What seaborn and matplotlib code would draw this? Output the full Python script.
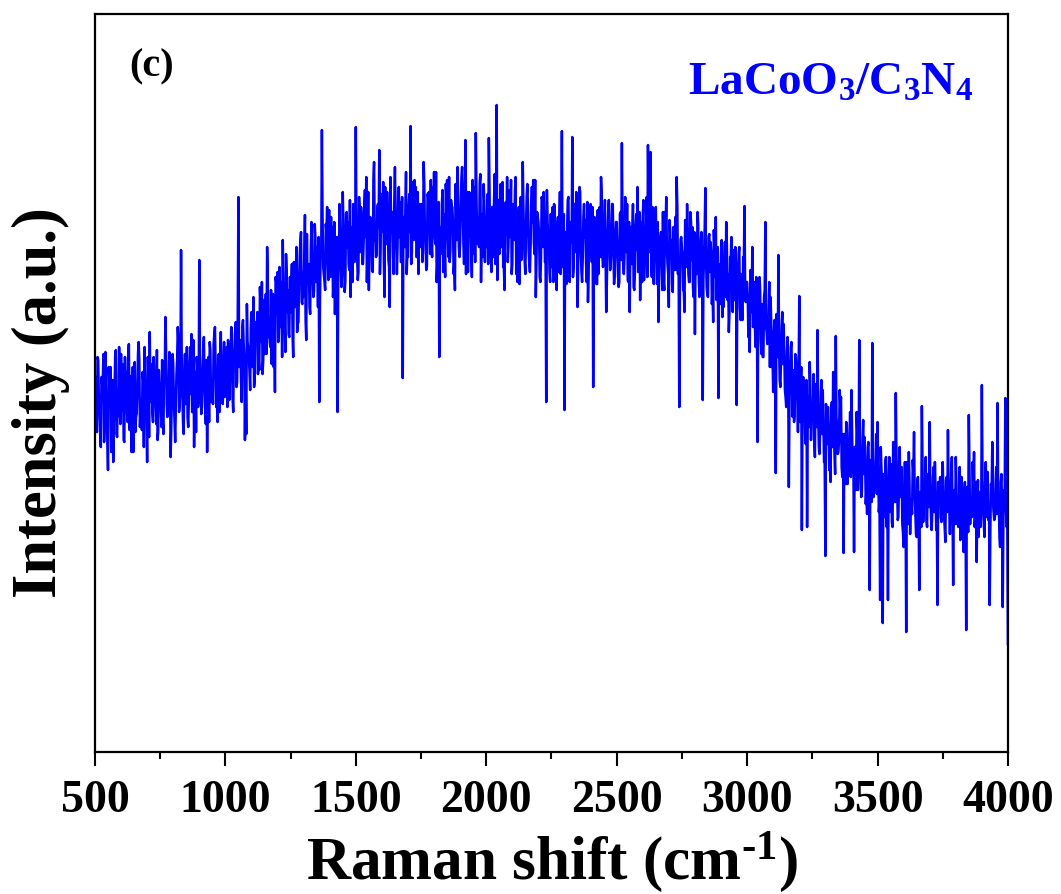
import numpy as np
import pandas as pd
import matplotlib
matplotlib.use("Agg")
import matplotlib.pyplot as plt
import seaborn as sns

# The spectrum is stored as two interleaved sample sets:
# set A at 500, 505, ..., 4000 cm^-1 and set B at 502.5, 507.5, ..., 3997.5 cm^-1
step = 5.0
offset_b = 2.5

# Set A intensities (a.u.), one list per 250 cm^-1 block
intensity_500 = [357, 330, 395, 352, 318, 375, 372, 310, 400, 345,
                 282, 368, 385, 322, 290, 360, 402, 315, 336, 380,
                 398, 342, 312, 395, 380, 330, 408, 355, 300, 385,
                 365, 320, 338, 398, 392, 345, 322, 372, 405, 335,
                 290, 380, 420, 350, 340, 395, 376, 328, 312, 382]
intensity_750 = [368, 325, 330, 390, 435, 348, 352, 400, 295, 362,
                 388, 330, 342, 392, 410, 350, 502, 365, 318, 398,
                 380, 335, 352, 405, 418, 340, 305, 380, 395, 345,
                 492, 370, 345, 402, 372, 328, 300, 395, 410, 350,
                 362, 408, 425, 345, 330, 398, 390, 352, 348, 410]
intensity_1000 = [360, 405, 412, 352, 385, 420, 340, 398, 430, 370,
                  555, 395, 372, 425, 408, 312, 318, 410, 395, 362,
                  440, 385, 365, 430, 420, 378, 382, 445, 470, 392,
                  398, 458, 505, 415, 410, 462, 445, 385, 360, 470,
                  480, 418, 425, 470, 512, 432, 400, 478, 462, 415]
intensity_1250 = [440, 488, 395, 455, 478, 420, 430, 495, 520, 448,
                  455, 537, 412, 470, 488, 438, 530, 475, 462, 515,
                  505, 445, 350, 498, 622, 485, 470, 528, 545, 472,
                  488, 535, 525, 468, 438, 512, 340, 490, 510, 465,
                  560, 498, 472, 540, 530, 482, 455, 525, 548, 490]
intensity_1500 = [625, 498, 480, 540, 545, 488, 510, 562, 575, 505,
                  462, 535, 530, 480, 590, 520, 498, 548, 602, 505,
                  520, 570, 455, 515, 560, 492, 445, 538, 540, 478,
                  585, 512, 505, 565, 550, 490, 374, 525, 540, 478,
                  495, 558, 626, 500, 520, 572, 565, 495, 478, 548]
intensity_1750 = [535, 490, 590, 515, 482, 558, 560, 498, 510, 565,
                  580, 508, 470, 545, 395, 520, 548, 480, 505, 568,
                  572, 495, 490, 552, 545, 478, 462, 540, 585, 505,
                  510, 575, 555, 488, 612, 520, 480, 560, 540, 475,
                  498, 565, 619, 508, 525, 570, 470, 538, 568, 490]
intensity_2000 = [505, 558, 614, 495, 480, 545, 552, 488, 647, 520,
                  498, 568, 540, 485, 462, 550, 575, 505, 515, 572,
                  488, 530, 560, 478, 470, 545, 535, 492, 590, 510,
                  478, 555, 545, 488, 505, 565, 572, 498, 455, 540,
                  530, 475, 495, 552, 560, 490, 350, 530, 520, 470]
intensity_2250 = [485, 545, 548, 490, 462, 535, 530, 478, 621, 505,
                  342, 498, 520, 555, 470, 528, 615, 485, 505, 560,
                  445, 515, 560, 480, 495, 548, 532, 470, 450, 525,
                  548, 490, 365, 535, 515, 468, 478, 545, 575, 498,
                  490, 552, 440, 510, 552, 482, 505, 548, 468, 515]
intensity_2500 = [530, 478, 470, 540, 609, 488, 495, 545, 548, 470,
                  440, 525, 520, 465, 480, 538, 565, 490, 452, 530,
                  535, 472, 498, 555, 607, 500, 600, 475, 478, 532,
                  545, 468, 430, 515, 520, 462, 470, 540, 555, 488,
                  445, 522, 512, 460, 482, 535, 575, 478, 345, 512]
intensity_2750 = [505, 462, 440, 525, 548, 478, 470, 530, 525, 455,
                  418, 505, 540, 470, 480, 520, 352, 495, 564, 465,
                  455, 518, 510, 448, 430, 502, 535, 460, 354, 488,
                  498, 435, 445, 510, 530, 452, 420, 495, 515, 440,
                  462, 505, 347, 470, 505, 432, 440, 495, 546, 450]
intensity_3000 = [470, 415, 400, 468, 505, 428, 425, 475, 310, 440,
                  462, 398, 395, 455, 530, 420, 418, 470, 455, 385,
                  360, 432, 279, 410, 497, 372, 390, 440, 428, 362,
                  345, 415, 265, 380, 410, 335, 330, 398, 378, 320,
                  456, 352, 222, 375, 365, 308, 225, 355, 390, 312]
intensity_3250 = [340, 378, 295, 350, 422, 305, 320, 372, 362, 290,
                  196, 338, 345, 282, 270, 350, 380, 298, 416, 325,
                  300, 362, 355, 275, 199, 318, 330, 268, 285, 340,
                  362, 280, 200, 305, 340, 262, 412, 300, 260, 332,
                  315, 248, 238, 310, 162, 292, 409, 255, 280, 318]
intensity_3500 = [330, 240, 152, 285, 129, 262, 290, 225, 152, 295,
                  265, 230, 310, 250, 359, 272, 235, 305, 282, 228,
                  205, 290, 120, 255, 300, 218, 248, 292, 320, 240,
                  215, 275, 162, 258, 346, 230, 260, 295, 225, 268,
                  330, 235, 240, 285, 290, 222, 147, 262, 275, 230]
intensity_3750 = [290, 238, 210, 275, 322, 245, 250, 295, 167, 262,
                  295, 228, 225, 285, 275, 235, 200, 270, 122, 250,
                  337, 228, 240, 290, 300, 238, 190, 272, 260, 225,
                  367, 255, 215, 290, 280, 232, 147, 268, 310, 240,
                  235, 285, 349, 250, 205, 278, 145, 262, 354, 225,
                  107]

# Set B intensities (a.u.), one list per 250 cm^-1 block
intensity_500b = [375, 320, 392, 340, 305, 368, 398, 330, 355, 312,
                  385, 348, 300, 372, 335, 395, 318, 362, 405, 328,
                  350, 388, 310, 365, 342, 398, 322, 376, 345, 300,
                  390, 335, 362, 410, 325, 352, 380, 305, 370, 338,
                  395, 315, 358, 388, 330, 372, 348, 402, 320, 365]
intensity_750b = [345, 392, 318, 370, 402, 335, 360, 385, 322, 398,
                  352, 310, 378, 425, 340, 365, 395, 330, 372, 348,
                  405, 325, 388, 358, 340, 412, 368, 320, 385, 352,
                  398, 338, 375, 415, 345, 392, 360, 330, 402, 372,
                  348, 418, 385, 352, 395, 340, 420, 368, 392, 355]
intensity_1000b = [390, 345, 408, 372, 425, 355, 398, 418, 365, 440,
                   385, 412, 350, 432, 395, 372, 448, 405, 380, 425,
                   398, 455, 372, 418, 440, 392, 465, 410, 378, 452,
                   425, 398, 470, 432, 405, 388, 458, 420, 475, 438,
                   410, 485, 445, 395, 462, 428, 498, 440, 418, 475]
intensity_1250b = [465, 418, 490, 445, 505, 428, 472, 512, 450, 480,
                   495, 432, 518, 468, 445, 502, 485, 455, 528, 470,
                   492, 515, 448, 500, 535, 478, 462, 520, 495, 542,
                   475, 505, 455, 530, 490, 515, 468, 548, 500, 482,
                   525, 460, 538, 505, 488, 552, 512, 470, 530, 505]
intensity_1500b = [520, 472, 555, 500, 535, 488, 548, 515, 470, 560,
                   505, 530, 482, 572, 512, 495, 545, 525, 478, 558,
                   538, 492, 565, 508, 540, 485, 575, 520, 500, 550,
                   528, 478, 562, 515, 490, 555, 535, 505, 580, 498,
                   545, 520, 488, 570, 512, 548, 495, 560, 530, 505]
intensity_1750b = [548, 500, 568, 512, 485, 555, 530, 572, 495, 540,
                   515, 580, 488, 550, 525, 498, 562, 538, 475, 555,
                   520, 575, 502, 545, 530, 488, 568, 512, 552, 495,
                   540, 585, 508, 530, 478, 560, 525, 548, 500, 572,
                   515, 490, 558, 535, 505, 578, 520, 495, 550, 528]
intensity_2000b = [530, 488, 565, 512, 545, 495, 578, 520, 472, 552,
                   528, 505, 570, 485, 540, 518, 490, 562, 535, 478,
                   548, 512, 575, 498, 530, 468, 555, 520, 545, 490,
                   525, 568, 502, 480, 548, 530, 510, 572, 488, 535,
                   518, 470, 555, 505, 540, 492, 562, 515, 480, 538]
intensity_2250b = [512, 470, 545, 498, 525, 480, 560, 505, 485, 538,
                   520, 468, 552, 495, 530, 510, 475, 548, 500, 522,
                   488, 565, 505, 470, 535, 515, 490, 550, 478, 528,
                   505, 545, 482, 520, 468, 542, 510, 495, 558, 485,
                   525, 500, 472, 540, 515, 490, 548, 505, 478, 530]
intensity_2500b = [505, 465, 538, 492, 520, 478, 555, 500, 472, 530,
                   515, 488, 548, 462, 525, 502, 480, 540, 510, 470,
                   552, 495, 518, 475, 535, 505, 485, 545, 468, 522,
                   498, 530, 475, 512, 490, 540, 462, 518, 502, 478,
                   532, 495, 468, 525, 505, 482, 545, 490, 470, 515]
intensity_2750b = [498, 460, 532, 485, 512, 470, 540, 492, 465, 520,
                   500, 478, 528, 455, 510, 488, 472, 525, 495, 458,
                   515, 480, 500, 462, 522, 475, 452, 505, 485, 448,
                   512, 470, 490, 455, 508, 478, 440, 495, 468, 502,
                   452, 485, 465, 498, 445, 478, 432, 490, 460, 470]
intensity_3000b = [455, 418, 482, 440, 425, 470, 405, 452, 432, 475,
                   412, 448, 395, 462, 425, 408, 445, 385, 430, 400,
                   420, 372, 438, 395, 412, 365, 425, 388, 402, 355,
                   395, 372, 348, 405, 365, 382, 338, 395, 358, 372,
                   330, 385, 345, 362, 318, 372, 340, 325, 365, 335]
intensity_3250b = [345, 312, 368, 325, 340, 298, 355, 318, 332, 290,
                   348, 308, 325, 285, 342, 305, 320, 278, 335, 298,
                   312, 345, 285, 318, 300, 268, 328, 292, 310, 275,
                   322, 288, 305, 262, 318, 282, 298, 255, 312, 278,
                   290, 262, 305, 275, 285, 250, 298, 268, 282, 258]
intensity_3500b = [285, 248, 305, 262, 278, 235, 295, 258, 272, 240,
                   288, 225, 268, 250, 298, 232, 275, 255, 285, 220,
                   262, 245, 290, 228, 270, 252, 238, 280, 255, 218,
                   272, 242, 260, 225, 285, 248, 265, 232, 278, 245,
                   258, 222, 275, 240, 262, 230, 270, 248, 235, 265]
intensity_3750b = [258, 225, 272, 240, 262, 218, 280, 245, 255, 228,
                   268, 238, 250, 212, 275, 242, 258, 230, 265, 220,
                   278, 248, 235, 262, 225, 270, 245, 215, 258, 240,
                   272, 228, 255, 235, 280, 245, 222, 262, 250, 232,
                   268, 238, 255, 215, 270, 242, 230, 258, 245, 235]

x_ticks = [500, 1000, 1500, 2000, 2500, 3000, 3500, 4000]
x_label = r"Raman shift (cm$^{\text{-}1}$)"
y_label = "Intensity (a.u.)"
panel_tag = "(c)"
sample_name = "LaCoO$_3$/C$_3$N$_4$"

set_a = (intensity_500 + intensity_750 + intensity_1000 + intensity_1250
         + intensity_1500 + intensity_1750 + intensity_2000 + intensity_2250
         + intensity_2500 + intensity_2750 + intensity_3000 + intensity_3250
         + intensity_3500 + intensity_3750)
set_b = (intensity_500b + intensity_750b + intensity_1000b + intensity_1250b
         + intensity_1500b + intensity_1750b + intensity_2000b + intensity_2250b
         + intensity_2500b + intensity_2750b + intensity_3000b + intensity_3250b
         + intensity_3500b + intensity_3750b)
shift_a = 500 + step * np.arange(len(set_a))
shift_b = 500 + offset_b + step * np.arange(len(set_b))
spectrum = pd.DataFrame({
    "shift": np.concatenate([shift_a, shift_b]),
    "intensity": np.concatenate([set_a, set_b]),
}).sort_values("shift", ignore_index=True)

sns.set_style("ticks")
plt.rcParams["font.family"] = ["Liberation Serif", "DejaVu Serif"]
plt.rcParams["font.weight"] = "bold"
plt.rcParams["text.color"] = "black"
plt.rcParams["axes.labelcolor"] = "black"
plt.rcParams["xtick.color"] = "black"
plt.rcParams["mathtext.fontset"] = "custom"
plt.rcParams["mathtext.rm"] = "Liberation Serif:bold"
plt.rcParams["mathtext.it"] = "Liberation Serif:bold"
plt.rcParams["mathtext.bf"] = "Liberation Serif:bold"

fig = plt.figure(figsize=(10.61, 8.94), dpi=100)
ax = fig.add_axes([0.0895, 0.1588, 0.8605, 0.8255])

sns.lineplot(data=spectrum, x="shift", y="intensity", ax=ax,
             color="#0000FF", linewidth=1.8)

ax.set_xlim(500, 4000)
ax.set_ylim(0, 738)
ax.set_xticks(x_ticks)
ax.set_xticks(np.arange(750, 4000, 500), minor=True)
ax.set_yticks([])
ax.tick_params(axis="x", which="major", direction="out", length=10, width=1.5,
               labelsize=33, pad=10, colors="black")
ax.tick_params(axis="x", which="minor", direction="out", length=5, width=1.5,
               colors="black")
for lbl in ax.get_xticklabels():
    lbl.set_fontweight("bold")

for side in ["top", "right", "left", "bottom"]:
    ax.spines[side].set_visible(True)
    ax.spines[side].set_linewidth(1.6)
    ax.spines[side].set_color("black")

ax.set_xlabel(x_label, fontsize=44, fontweight="bold", labelpad=6)
ax.set_ylabel(y_label, fontsize=45, fontweight="bold")
ax.yaxis.set_label_coords(-0.027, 0.473)

ax.text(0.038, 0.928, panel_tag, transform=ax.transAxes, fontsize=29,
        fontweight="bold", ha="left", va="center")
ax.text(0.962, 0.905, sample_name, transform=ax.transAxes, fontsize=34,
        fontweight="bold", color="#0000FF", ha="right", va="center")

fig.savefig("out.png", dpi=100)
